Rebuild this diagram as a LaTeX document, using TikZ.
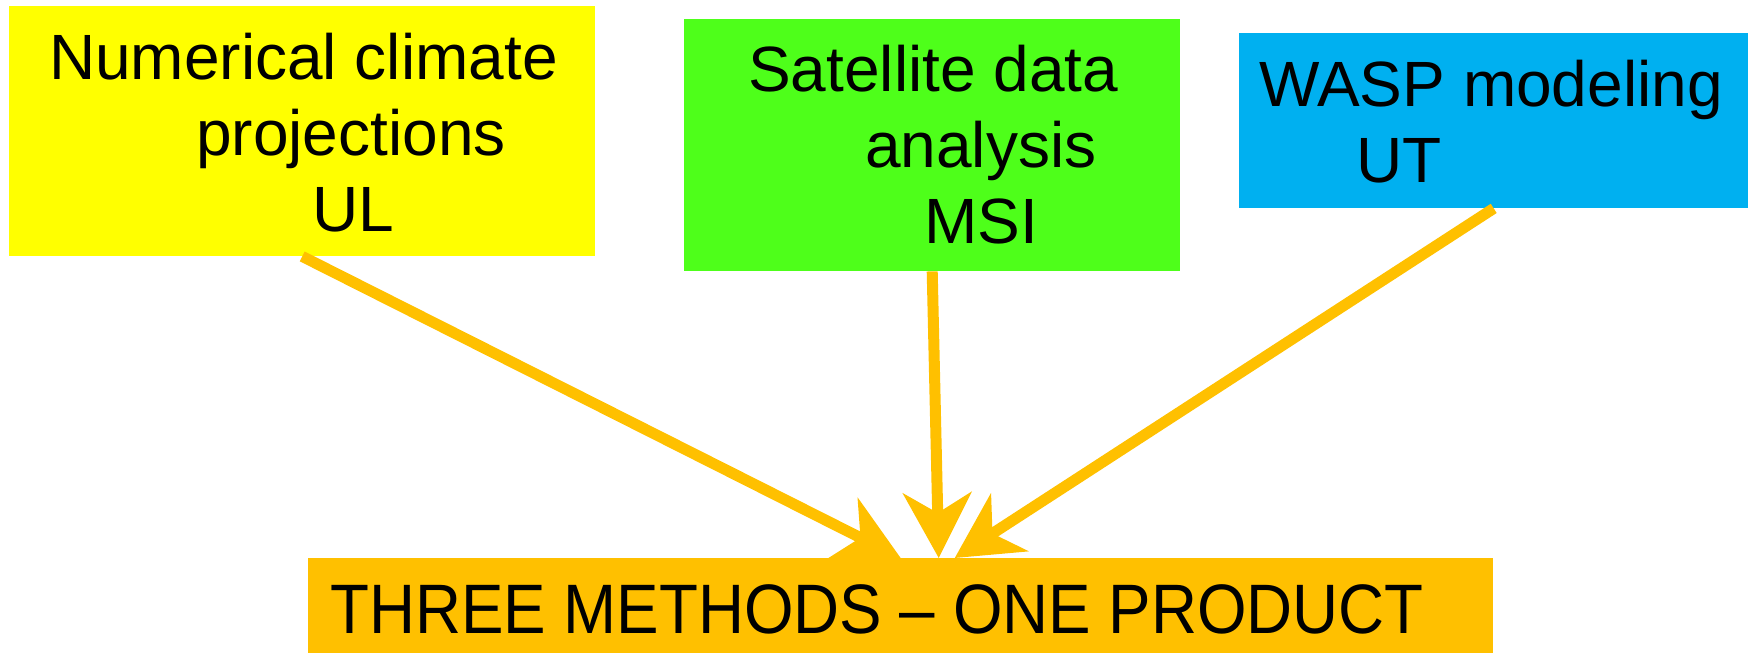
\documentclass[tikz,border=0pt]{standalone}
\usepackage{fontspec}
\setmainfont{Liberation Sans}
\usetikzlibrary{arrows.meta}

\definecolor{ylw}{HTML}{FFFF00}
\definecolor{grn}{HTML}{4EFF1A}
\definecolor{blu}{HTML}{00B0F0}
\definecolor{gold}{HTML}{FFC000}

\begin{document}
\begin{tikzpicture}[x=1pt,y=-1pt]
	\tikzset{
		box/.style={rectangle, inner sep=0pt, anchor=north west},
		txt/.style={align=left, inner sep=0pt, anchor=base west, font=\fontsize{64}{76}\selectfont},
		arr/.style={draw=gold, line width=11pt, -{Stealth[length=65pt,width=68pt,inset=20pt]}}
	}
	\useasboundingbox (0,0) rectangle (1750,653);

	% boxes
	\node[box, fill=ylw, minimum width=586pt, minimum height=250pt] (ul) at (9,6) {};
	\node[box, fill=grn, minimum width=496pt, minimum height=252pt] (msi) at (684,19) {};
	\node[box, fill=blu, minimum width=509pt, minimum height=175pt] (ut) at (1239,33) {};
	\node[box, fill=gold, minimum width=1185pt, minimum height=95pt] (product) at (308,558) {};

	% texts (anchored on the baseline of the last line)
	\node[txt] (ultext) at (49,231) {Numerical climate\\\hspace*{147pt}projections\\\hspace*{263pt}UL};
	\node[txt] (msitext) at (748,243) {Satellite data\\\hspace*{117pt}analysis\\\hspace*{176pt}MSI};
	\node[txt] (uttext) at (1259,182) {WASP modeling\\\hspace*{97pt}UT};
	\node[txt, font=\fontsize{70}{84}\selectfont] (prodtext) at (330,633)
		{\scalebox{0.91}[1]{THREE METHODS -- ONE PRODUCT}};

	% arrows
	\draw[arr] (ul.south) -- (product.north);
	\draw[arr] (msi.south) -- ([xshift=38pt]product.north);
	\draw[arr] (ut.south) -- ([xshift=54pt]product.north);
\end{tikzpicture}
\end{document}
